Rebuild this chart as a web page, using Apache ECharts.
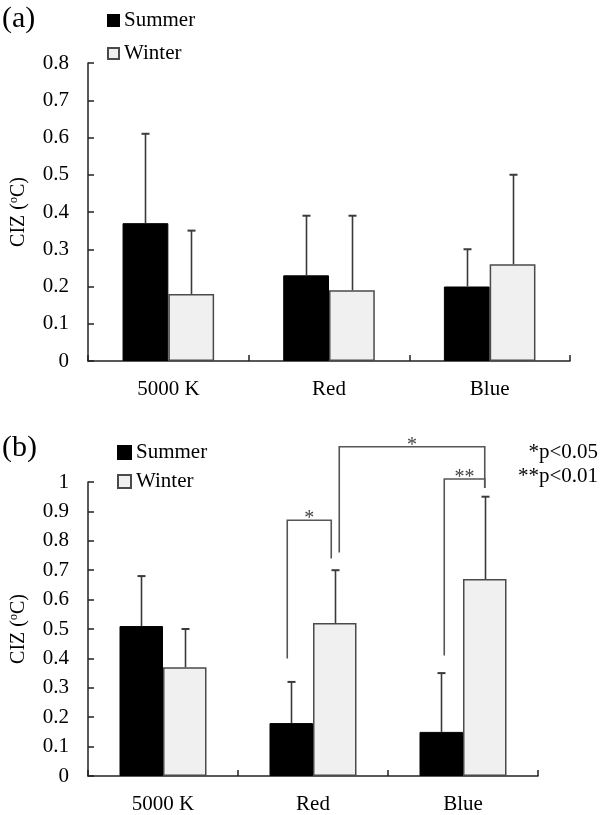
<!DOCTYPE html>
<html>
<head>
<meta charset="utf-8">
<script src="https://cdn.jsdelivr.net/npm/echarts@6/dist/echarts.min.js"></script>
<style>html,body{margin:0;padding:0;background:#fff;}#c{width:600px;height:815px;}</style>
</head>
<body>
<div id="c"></div>
<script>
// ---- data ----
const categories = ['5000 K', 'Red', 'Blue'];
const seriesNames = ['Summer', 'Winter'];
// panel (a)
const summerA = [0.37, 0.23, 0.20];
const winterA = [0.18, 0.19, 0.26];
const summerAErrTop = [0.61, 0.39, 0.30];
const winterAErrTop = [0.35, 0.39, 0.50];
// panel (b)
const summerB = [0.51, 0.18, 0.15];
const winterB = [0.37, 0.52, 0.67];
const summerBErrTop = [0.68, 0.32, 0.35];
const winterBErrTop = [0.50, 0.70, 0.95];
// y axis ranges
const yMaxA = 0.8, yMaxB = 1, yStep = 0.1;
// significance brackets in panel (b): [fromCat, fromSeries, toCat, toSeries, startY, topY, endY]
const bracketRows = [
  [1, 0, 1, 1, 0.40, 0.87, 0.74],
  [1, 1, 2, 1, 0.76, 1.12, 0.98],
  [2, 0, 2, 1, 0.41, 1.01, 0.98]
];
const bracketLabels = ['*', '*', '**'];
const pLegend = ['*p<0.05', '**p<0.01'];

// ---- styles ----
const FONT = 'Liberation Serif';
const GAP_A = 0.43, GAP_B = 0.42;
const legNudge = [[-4, -3.5], [4.5, 0], [3, 0]];

const chart = echarts.init(document.getElementById('c'), null, {renderer: 'canvas'});

function errRows(tops, vals, s) {
  return tops.map((t, i) => [i, t, vals[i], s]);
}

function errRender(gap) {
  return function (params, api) {
    const c = api.value(0), top = api.value(1), base = api.value(2), s = api.value(3);
    const bw = api.size([1, 0])[0];
    const off = (s === 0 ? -1 : 1) * bw * (1 - gap) / 4;
    const p1 = api.coord([c, base]);
    const p2 = api.coord([c, top]);
    const x = Math.round(p1[0] + off) + 0.5;
    const st = {stroke: '#3a3a3a', lineWidth: 1.6};
    return {
      type: 'group',
      children: [
        {type: 'line', shape: {x1: x, y1: p1[1], x2: x, y2: p2[1]}, style: st},
        {type: 'line', shape: {x1: x - 4, y1: p2[1], x2: x + 4, y2: p2[1]}, style: {stroke: '#3a3a3a', lineWidth: 2}}
      ]
    };
  };
}

function bracketRender(gap) {
  return function (params, api) {
    const i = params.dataIndex;
    const fc = api.value(0), fs = api.value(1), tc = api.value(2), ts = api.value(3);
    const y0 = api.value(4), yt = api.value(5), y1 = api.value(6);
    const bw = api.size([1, 0])[0];
    const q = bw * (1 - gap) / 4;
    const xa = api.coord([fc, 0])[0] + (fs === 0 ? -q : q) + legNudge[i][0];
    const xb = api.coord([tc, 0])[0] + (ts === 0 ? -q : q) + legNudge[i][1];
    const ya = api.coord([fc, y0])[1], yT = api.coord([fc, yt])[1], yb = api.coord([tc, y1])[1];
    return {
      type: 'group',
      children: [
        {type: 'polyline', shape: {points: [[xa, ya], [xa, yT], [xb, yT], [xb, yb]]},
          style: {stroke: '#555', lineWidth: 1.6, fill: null}},
        {type: 'text', x: (xa + xb) / 2, y: yT - 1,
          style: {text: bracketLabels[i], font: '20px ' + FONT, fill: '#444', align: 'center', verticalAlign: 'middle'}}
      ]
    };
  };
}

const axisText = {color: '#000', fontFamily: FONT, fontSize: 21};
function xAx(gi) {
  return {
    type: 'category', gridIndex: gi, data: categories,
    axisLine: {lineStyle: {color: '#222', width: 1.5}},
    axisTick: {show: true, inside: true, length: 6, alignWithLabel: false, lineStyle: {color: '#222', width: 1.5}},
    axisLabel: Object.assign({margin: 18}, axisText),
    splitLine: {show: false}
  };
}
function yAx(gi, max) {
  return {
    type: 'value', gridIndex: gi, min: 0, max: max, interval: yStep,
    name: '{n|CIZ (}{s|o}{n|C)}',
    nameLocation: 'middle', nameRotate: 90, nameGap: 58,
    nameTextStyle: {
      rich: {
        n: {fontFamily: FONT, fontSize: 20, color: '#000', lineHeight: 22},
        s: {fontFamily: FONT, fontSize: 12, color: '#000', verticalAlign: 'top', lineHeight: 22, padding: [0, 0, 8, 0]}
      }
    },
    axisLine: {show: true, lineStyle: {color: '#222', width: 1.5}},
    axisTick: {show: true, inside: true, length: 6, lineStyle: {color: '#222', width: 1.5}},
    axisLabel: Object.assign({margin: 19}, axisText),
    splitLine: {show: false}
  };
}

const summerStyle = {color: '#000', borderColor: '#000', borderWidth: 1};
const winterStyle = {color: '#f0f0f0', borderColor: '#4a4a4a', borderWidth: 1.5};

function legend(top, left, iconSize, gap) {
  return {
    top: top, left: left, orient: 'vertical', itemWidth: iconSize, itemHeight: iconSize, itemGap: gap,
    padding: 0, selectedMode: false, icon: 'rect',
    textStyle: {fontFamily: FONT, fontSize: 21, color: '#000', lineHeight: 20},
    data: seriesNames
  };
}

chart.setOption({
  animation: false,
  backgroundColor: '#fff',
  grid: [
    {left: 81, right: 30, top: 63, bottom: 454},
    {left: 81, right: 62, top: 482, bottom: 37}
  ],
  legend: [
    legend(10, 107, 11, 12),
    legend(442, 117, 13, 8)
  ],
  xAxis: [xAx(0), xAx(1)],
  yAxis: [yAx(0, yMaxA), yAx(1, yMaxB)],
  graphic: [
    {type: 'text', left: 2, top: 4, style: {text: '(a)', font: '30px ' + FONT, fill: '#000'}},
    {type: 'text', left: 2, top: 433, style: {text: '(b)', font: '30px ' + FONT, fill: '#000'}},
    {type: 'text', right: 2, top: 442, style: {text: pLegend[0], font: '21px ' + FONT, fill: '#000', align: 'right'}},
    {type: 'text', right: 2, top: 466, style: {text: pLegend[1], font: '21px ' + FONT, fill: '#000', align: 'right'}}
  ],
  series: [
    {name: 'Summer', type: 'bar', xAxisIndex: 0, yAxisIndex: 0, data: summerA, barGap: '0%', barCategoryGap: (GAP_A * 100) + '%', itemStyle: summerStyle},
    {name: 'Winter', type: 'bar', xAxisIndex: 0, yAxisIndex: 0, data: winterA, barGap: '0%', barCategoryGap: (GAP_A * 100) + '%', itemStyle: winterStyle},
    {name: 'Summer', type: 'bar', xAxisIndex: 1, yAxisIndex: 1, data: summerB, barGap: '0%', barCategoryGap: (GAP_B * 100) + '%', itemStyle: summerStyle},
    {name: 'Winter', type: 'bar', xAxisIndex: 1, yAxisIndex: 1, data: winterB, barGap: '0%', barCategoryGap: (GAP_B * 100) + '%', itemStyle: winterStyle},
    {type: 'custom', xAxisIndex: 0, yAxisIndex: 0, renderItem: errRender(GAP_A), clip: false, z: 5,
      data: errRows(summerAErrTop, summerA, 0).concat(errRows(winterAErrTop, winterA, 1)), encode: {x: 0, y: [1, 2]}},
    {type: 'custom', xAxisIndex: 1, yAxisIndex: 1, renderItem: errRender(GAP_B), clip: false, z: 5,
      data: errRows(summerBErrTop, summerB, 0).concat(errRows(winterBErrTop, winterB, 1)), encode: {x: 0, y: [1, 2]}},
    {type: 'custom', xAxisIndex: 1, yAxisIndex: 1, renderItem: bracketRender(GAP_B), clip: false, z: 5,
      data: bracketRows, encode: {x: 0, y: [4, 5]}}
  ]
});
</script>
</body>
</html>
